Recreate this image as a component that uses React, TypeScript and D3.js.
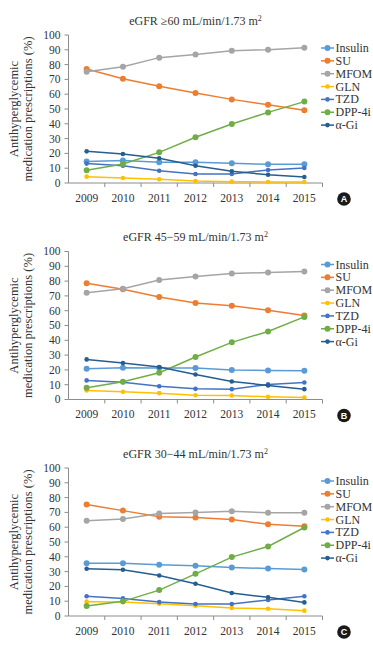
import React from "react";
import * as d3 from "d3";

const years = ["2009", "2010", "2011", "2012", "2013", "2014", "2015"];
const seriesNames = ["Insulin", "SU", "MFOM", "GLN", "TZD", "DPP-4i", "α-Gi"];
const seriesColors = ["#5B9BD5", "#ED7D31", "#A5A5A5", "#FFC000", "#4472C4", "#70AD47", "#255E91"];
const markerSizes = [3, 3, 3, 2.3, 2.3, 3, 2.3];
const yTicks = [0, 10, 20, 30, 40, 50, 60, 70, 80, 90, 100];

// Panel A: eGFR >=60
const insulinA = [14.6, 15.2, 14, 14, 13.3, 12.6, 12.6];
const suA = [77, 70.5, 65.3, 60.8, 56.5, 52.9, 49.1];
const mfomA = [75.2, 78.6, 84.7, 86.9, 89.4, 90.1, 91.4];
const glnA = [4.3, 3.4, 2.5, 1.4, 0.9, 0.7, 0.7];
const tzdA = [13.1, 11.7, 8.3, 6.1, 6.1, 8.8, 10.1];
const dppA = [8.6, 12.8, 20.7, 30.9, 39.9, 47.7, 55];
const agiA = [21.4, 19.6, 16.7, 11.7, 7.9, 5.6, 4.1];

// Panel B: eGFR 45-59
const insulinB = [20.8, 21.4, 21.2, 21.2, 19.9, 19.6, 19.4];
const suB = [78.6, 74.5, 69.3, 65.2, 63.4, 60.3, 56.7];
const mfomB = [72.2, 74.9, 80.8, 83.1, 85.1, 85.8, 86.5];
const glnB = [6.1, 5.2, 4.3, 2.9, 2.7, 1.8, 1.4];
const tzdB = [12.9, 11.7, 9, 7.2, 7, 10.2, 11.5];
const dppB = [7.9, 12, 18.1, 28.7, 38.6, 46, 55.8];
const agiB = [27.1, 24.6, 21.9, 16.9, 12.2, 9.5, 7];

// Panel C: eGFR 30-44
const insulinC = [35.7, 35.7, 34.6, 33.9, 32.8, 32.1, 31.5];
const suC = [75.3, 71.2, 67, 66.5, 65.2, 62, 60.7];
const mfomC = [64.3, 65.6, 69.2, 69.9, 70.8, 69.7, 69.7];
const glnC = [9.7, 9.4, 8.3, 7, 5.4, 4.9, 3.6];
const tzdC = [13.3, 11.9, 9.4, 8.1, 8.1, 10.8, 13.3];
const dppC = [6.7, 9.9, 17.5, 28.5, 39.8, 47, 59.8];
const agiC = [31.9, 31.2, 27.4, 21.8, 15.5, 12.6, 9.2];

const panelTitles = ["eGFR ≥60 mL/min/1.73 m", "eGFR 45−59 mL/min/1.73 m", "eGFR 30−44 mL/min/1.73 m"];
const panelLetters = ["A", "B", "C"];
const panelData = [
  [insulinA, suA, mfomA, glnA, tzdA, dppA, agiA],
  [insulinB, suB, mfomB, glnB, tzdB, dppB, agiB],
  [insulinC, suC, mfomC, glnC, tzdC, dppC, agiC],
];
const panelOffsets = [0, 216.5, 433];

const serif = "'Liberation Serif', 'Times New Roman', serif";
const axisColor = "#8c8c8c";
const textColor = "#333";

const x = d3.scaleBand<string>().domain(years).range([68.5, 322.5]).padding(0);
const y = d3.scaleLinear().domain([0, 100]).range([183, 35]);
const line = d3
  .line<number>()
  .x((_, i) => (x(years[i]) as number) + x.bandwidth() / 2)
  .y((d) => y(d));

function Panel({ idx }: { idx: number }) {
  const data = panelData[idx];
  const top = panelOffsets[idx];
  const [x0, x1] = x.range();
  return (
    <g transform={`translate(0,${top})`}>
      <text x={195.5} y={24.5} textAnchor="middle" fontFamily={serif} fontSize={12} fill={textColor}>
        {panelTitles[idx]}
        <tspan dy={-4} fontSize={8}>2</tspan>
      </text>
      {/* y axis */}
      <line x1={x0} x2={x0} y1={y(100)} y2={y(0)} stroke={axisColor} strokeWidth={1} />
      {yTicks.map((t) => (
        <g key={t}>
          <line x1={x0 - 4} x2={x0} y1={y(t)} y2={y(t)} stroke={axisColor} strokeWidth={1} />
          <text x={x0 - 8} y={y(t)} dy="0.34em" textAnchor="end" fontFamily={serif} fontSize={11.5} fill={textColor}>
            {t}
          </text>
        </g>
      ))}
      {/* x axis */}
      <line x1={x0} x2={x1} y1={y(0)} y2={y(0)} stroke={axisColor} strokeWidth={1} />
      {years.map((yr) => (
        <g key={yr}>
          <line
            x1={(x(yr) as number) + x.bandwidth()}
            x2={(x(yr) as number) + x.bandwidth()}
            y1={y(0)}
            y2={y(0) + 4}
            stroke={axisColor}
            strokeWidth={1}
          />
          <text
            x={(x(yr) as number) + x.bandwidth() / 2}
            y={201.5}
            textAnchor="middle"
            fontFamily={serif}
            fontSize={11.5}
            fill={textColor}
          >
            {yr}
          </text>
        </g>
      ))}
      {/* y label */}
      <text
        transform={`translate(18,109) rotate(-90)`}
        textAnchor="middle"
        fontFamily={serif}
        fontSize={12.5}
        fill={textColor}
      >
        Antihyperglycemic
      </text>
      <text
        transform={`translate(32,109) rotate(-90)`}
        textAnchor="middle"
        fontFamily={serif}
        fontSize={12.5}
        fill={textColor}
      >
        medication prescriptions (%)
      </text>
      {/* series */}
      {data.map((vals, s) => (
        <g key={s}>
          <path d={line(vals) as string} fill="none" stroke={seriesColors[s]} strokeWidth={1.5} />
          {vals.map((v, i) => (
            <circle
              key={i}
              cx={(x(years[i]) as number) + x.bandwidth() / 2}
              cy={y(v)}
              r={markerSizes[s]}
              fill={seriesColors[s]}
            />
          ))}
        </g>
      ))}
      {/* legend */}
      {seriesNames.map((n, s) => {
        const ly = 48 + s * 12.85;
        return (
          <g key={n}>
            <line x1={321} x2={334} y1={ly} y2={ly} stroke={seriesColors[s]} strokeWidth={1.5} />
            <circle cx={327.5} cy={ly} r={markerSizes[s]} fill={seriesColors[s]} />
            <text x={335.5} y={ly} dy="0.34em" fontFamily={serif} fontSize={12} fill={textColor}>
              {n}
            </text>
          </g>
        );
      })}
      {/* panel letter */}
      <circle cx={344} cy={199} r={6.8} fill="#1a1a1a" />
      <text
        x={344}
        y={199}
        dy="0.35em"
        textAnchor="middle"
        fontFamily="'Liberation Sans', Arial, sans-serif"
        fontWeight="bold"
        fontSize={9}
        fill="#fff"
      >
        {panelLetters[idx]}
      </text>
    </g>
  );
}

export default function App() {
  return (
    <svg
      width={373}
      height={649}
      style={{ position: "absolute", left: 0, top: 0, background: "#fff" }}
    >
      <rect width={373} height={649} fill="#fff" />
      {[0, 1, 2].map((i) => (
        <Panel key={i} idx={i} />
      ))}
    </svg>
  );
}
